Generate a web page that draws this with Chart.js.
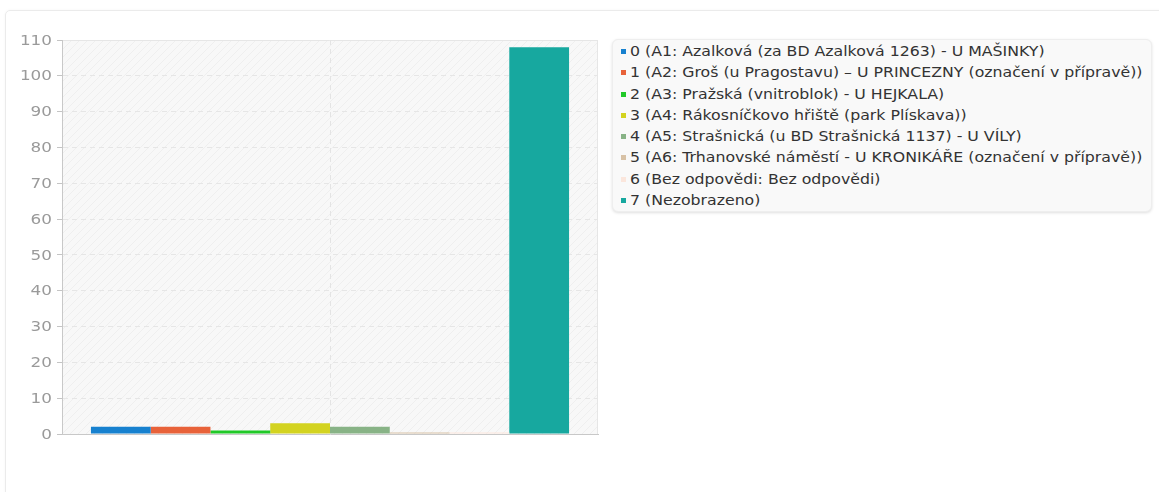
<!DOCTYPE html>
<html>
<head>
<meta charset="utf-8">
<script src="https://cdn.jsdelivr.net/npm/chart.js@4.4.1/dist/chart.umd.min.js"></script>
<style>
  html, body { margin: 0; padding: 0; background: #fff; }
  body { width: 1159px; height: 492px; position: relative; overflow: hidden; font-family: "DejaVu Sans", sans-serif; }
  #card { position: absolute; left: 5px; top: 10px; width: 1200px; height: 520px; border: 1px solid #ebebeb; border-radius: 5px; box-shadow: 0 0 3px rgba(0,0,0,0.04); }
  #wrap { position: absolute; left: 0; top: 0; width: 606px; height: 492px; }
  #legend { position: absolute; left: 612px; top: 39px; width: 540px; height: 173px; box-sizing: border-box;
            background: #f9f9f9; border: 1px solid #eeeeee; border-radius: 6px; box-shadow: 0 1px 3px rgba(0,0,0,0.13);
            padding: 1px 0 0 8px; }
  .item { height: 21.3px; line-height: 21.3px; font-size: 14px; color: #333; white-space: nowrap; }
  .sw { display: inline-block; width: 5px; height: 5px; margin-right: 4px; vertical-align: 2px; }
  .tx { display: inline-block; transform: scaleX(1.125); transform-origin: 0 50%; }
</style>
</head>
<body>
<div id="card"></div>
<div id="wrap"><canvas id="chart11"></canvas></div>
<div id="legend"></div>
<script>
const categorias = [''];
const etiquetas = [
  '0 (A1: Azalková (za BD Azalková 1263) - U MAŠINKY)',
  '1 (A2: Groš (u Pragostavu) – U PRINCEZNY (označení v přípravě))',
  '2 (A3: Pražská (vnitroblok) - U HEJKALA)',
  '3 (A4: Rákosníčkovo hřiště (park Plískava))',
  '4 (A5: Strašnická (u BD Strašnická 1137) - U VÍLY)',
  '5 (A6: Trhanovské náměstí - U KRONIKÁŘE (označení v přípravě))',
  '6 (Bez odpovědi: Bez odpovědi)',
  '7 (Nezobrazeno)'
];
const valores = [2, 2, 1, 3, 2, 0, 0, 108];
const colores = ['#1781cf', '#e8623a', '#21c928', '#d3d320', '#88b386', '#d8c2a6', '#fbe6dc', '#17a89f'];
const ticksY = [0, 10, 20, 30, 40, 50, 60, 70, 80, 90, 100, 110];

// leyenda html
const leg = document.getElementById('legend');
etiquetas.forEach((t, i) => {
  const d = document.createElement('div');
  d.className = 'item';
  const s = document.createElement('span');
  s.className = 'sw';
  s.style.background = colores[i];
  const x = document.createElement('span');
  x.className = 'tx';
  x.textContent = t;
  d.appendChild(s);
  d.appendChild(x);
  leg.appendChild(d);
});

// fondo rayado del area
function patron(ctx) {
  const c = document.createElement('canvas');
  c.width = 8; c.height = 8;
  const p = c.getContext('2d');
  p.fillStyle = '#f8f8f8';
  p.fillRect(0, 0, 8, 8);
  p.strokeStyle = '#efefef';
  p.lineWidth = 1;
  p.beginPath();
  p.moveTo(0, 8); p.lineTo(8, 0);
  p.moveTo(-4, 4); p.lineTo(4, -4);
  p.moveTo(4, 12); p.lineTo(12, 4);
  p.stroke();
  return ctx.createPattern(c, 'repeat');
}

const fondo = {
  id: 'fondo',
  beforeDraw(chart) {
    const {ctx, chartArea: a} = chart;
    ctx.save();
    ctx.fillStyle = patron(ctx);
    ctx.fillRect(a.left, a.top, a.right - a.left, a.bottom - a.top);
    ctx.strokeStyle = '#e6e6e6';
    ctx.lineWidth = 1;
    ctx.beginPath();
    ctx.moveTo(a.left, a.top + 0.5); ctx.lineTo(a.right - 0.5, a.top + 0.5); ctx.lineTo(a.right - 0.5, a.bottom);
    ctx.stroke();
    ctx.restore();
  },
  // etiquetas del eje y, un poco ensanchadas como en el original
  afterDraw(chart) {
    const {ctx} = chart;
    const sy = chart.scales.y;
    ctx.save();
    ctx.font = '14px "DejaVu Sans"';
    ctx.fillStyle = '#9a9a9a';
    ctx.textAlign = 'right';
    ctx.textBaseline = 'middle';
    sy.ticks.forEach(t => {
      const y = sy.getPixelForValue(t.value);
      ctx.save();
      ctx.translate(52, y + 1);
      ctx.scale(1.2, 1);
      ctx.fillText(String(t.value), 0, 0);
      ctx.restore();
    });
    ctx.restore();
  }
};

const ctx_entidades = document.getElementById('chart11').getContext('2d');
const charInstance = new Chart(ctx_entidades, {
  type: 'bar',
  data: {
    labels: categorias,
    datasets: etiquetas.map((t, i) => ({
      label: t,
      data: [valores[i]],
      backgroundColor: colores[i],
      borderWidth: 0,
      minBarLength: 1.5,
      categoryPercentage: 0.892,
      barPercentage: 1
    }))
  },
  options: {
    responsive: true,
    maintainAspectRatio: false,
    animation: false,
    layout: { padding: { top: 40, right: 8, bottom: 58, left: 0 } },
    plugins: {
      legend: { display: false },
      tooltip: { enabled: false }
    },
    scales: {
      x: {
        grid: { offset: false, color: '#e4e4e4', tickLength: 0, drawTicks: false },
        border: { color: '#c8c8c8', dash: [5, 4] },
        ticks: { display: false },
        afterFit: s => { s.height = 0; }
      },
      y: {
        min: 0, max: 110,
        afterBuildTicks: s => { s.ticks = ticksY.map(v => ({value: v})); },
        grid: { color: '#e6e6e6', tickLength: 5, tickColor: '#c4c4c4', tickBorderDash: [], drawTicks: true },
        border: { color: '#c8c8c8', dash: [5, 4] },
        ticks: { display: false },
        afterFit: s => { s.width = 62; }
      }
    }
  },
  plugins: [fondo]
});
</script>
</body>
</html>
